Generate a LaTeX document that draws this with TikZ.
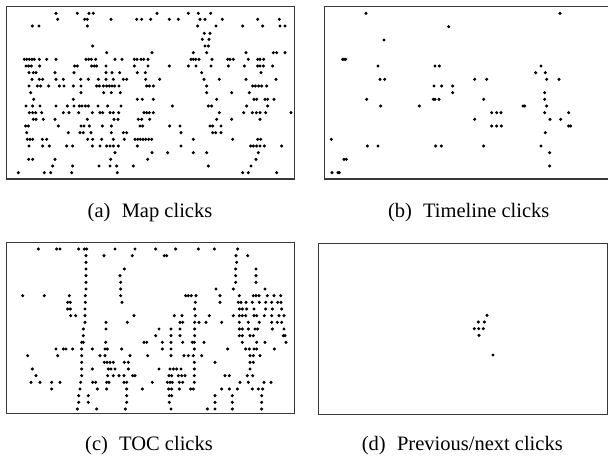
\documentclass[tikz,border=0pt]{standalone}
\usepackage{fontspec}
\setmainfont{Liberation Serif}
\begin{document}
\begin{tikzpicture}[x=1pt,y=-1pt,
  frame/.style={draw=black!78,line width=1.4pt},
  captext/.style={anchor=base,inner sep=0pt,font=\fontsize{20.5}{24}\selectfont},
  zpx/.style={x=0.33333pt,y=-0.33333pt}]
\useasboundingbox (0,0) rectangle (608,457);
\newcommand{\dotrows}[1]{\foreach \yy/\xs in {#1}{\foreach \xx in \xs {\fill (\xx,\yy) circle (1.7pt);}}}
% frames
\draw[frame] (6.5,6.7) rectangle (294.2,179);
\draw[frame] (324.7,6.7) rectangle (609.5,179);
\draw[frame] (6.7,242.7) rectangle (294.7,413.5);
\draw[frame] (318.5,243.3) rectangle (607.5,414.5);
% (a) Map clicks
\begin{scope}[zpx]
\dotrows{40/{168,232,267,280,471,565,595,632},
58/{173,254,262,333,410,425,452,508,535,600,615,667,773,838},
78/{97,117,262,593,648,728,788,840,855},
100/{613,630},
118/{607,627},
138/{278,615,625},
158/{320,456,580,620,738,820,830,855},
178/{73,80,88,96,103,118,140,168,258,266,274,287,345,366,403,411,423,431,444,573,580,587,597,636,683,690,700,745,773,780,791},
198/{78,86,94,119,224,232,275,283,290,318,403,444,508,565,588,633,685,733,773,780,790,818},
218/{87,100,108,165,222,318,336,359,412,436,605,783},
238/{96,118,128,168,190,242,265,295,318,340,370,380,437,479,612,658,738,828},
258/{87,112,122,146,178,192,220,243,290,298,310,320,328,336,344,357,440,448,460,620,758,766,776,785,800},
278/{92,243,311,334,361,620,695,748},
298/{101,220,412,427,460,650,762,770,795,803,822},
318/{78,98,120,168,202,222,238,246,256,265,294,323,363,517,625,635,740,803},
338/{88,98,107,125,190,207,236,277,300,308,330,340,356,432,440,448,460,658,731,757,769,780,797,873},
358/{100,108,130,165,262,342,354,415,425,449,650,695,780},
378/{77,85,175,243,252,268,307,334,420,428,509,540,630,638,663},
398/{80,205,240,250,273,334,370,380,543,638,647,663},
418/{82,90,98,127,140,263,278,305,340,373,405,413,421,429,437,446,455,580,698,773,782},
438/{87,128,148,200,218,277,300,320,330,340,355,412,543,752,760,770,780,793,845},
458/{345,456,503,580,620,775},
478/{86,98,165,332,443,768},
498/{158,218,297,330,350,400,625,753},
518/{55,133,152,215,352,728,745,830}}
\end{scope}
% (b) Timeline clicks
\begin{scope}[xshift=304pt,zpx]
\dotrows{40/{186,768},
80/{434},
120/{240},
178/{116,120,125},
198/{222,393,406,711},
218/{695,724},
238/{228,242,512,548,728,765},
258/{390,413,446},
278/{446,722},
298/{188,388,393,405,539,722},
318/{230,346,657,662,728},
338/{563,578,591,722,794},
358/{512,738,770},
378/{563,578,592,794,800},
398/{724},
418/{82},
438/{190,222,395,412,539,711},
458/{737},
478/{120,127},
498/{737},
518/{84,102,106}}
\end{scope}
% (c) TOC clicks
\begin{scope}[yshift=-228pt,zpx]
\dotrows{63/{115,170,180,236,253,260,345,405,467,527,595,643,713},
83/{258,312,397,493,500,708,743},
103/{258,710},
123/{258,373,707,768},
143/{258,360,707,768},
163/{258,362,707,768},
183/{258,362,648,700,795},
203/{68,133,208,256,362,557,565,574,588,660,718,760,768,777,802,822,842},
223/{203,211,256,366,586,660,715,723,738,757,778,797,815,833,843},
243/{203,211,255,584,718,727,740,762,797,817,845},
263/{212,227,255,402,523,546,586,628,700,718,727,737,762,770,793,815,837,852},
283/{255,318,382,540,548,584,597,618,665,718,745,778,815,832,845},
303/{250,318,477,513,540,584,718,727,745,765,773,817,852},
323/{250,467,513,540,584,718,727,750,760,850,855},
343/{245,250,317,432,440,487,513,548,577,583,612,727,770,795,858},
363/{168,190,198,218,245,277,315,322,365,487,513,583,683,737,748,762,770,823},
383/{83,173,245,300,315,390,443,513,552,565,580,605,750,760,780},
403/{245,313,321,330,340,373,385,583,645,750,760},
423/{97,245,277,325,333,345,385,477,510,520,530,543,583,750},
443/{108,245,323,340,357,372,398,405,507,515,535,545,555,583,675,688,742,758},
463/{93,120,155,180,242,278,287,320,327,372,380,457,502,510,517,538,548,583,720,745,792,813},
483/{155,240,292,320,380,427,506,515,538,572,580,665,688,712,757,775,788},
503/{236,265,380,508,515,645,697,785},
523/{236,265,380,508,645,697,785},
543/{232,290,376,513,622,645,697,785}}
\end{scope}
% (d) Previous/next clicks
\begin{scope}[xshift=304pt,yshift=-228pt,zpx]
\dotrows{262/{549},282/{523,541},302/{511,524,538},322/{525},381/{567}}
\end{scope}
% captions
\node[captext] (capa) at (150,218) {(a)\hspace{0.55em}Map clicks};
\node[captext] (capb) at (468.7,218) {(b)\hspace{0.55em}Timeline clicks};
\node[captext] (capc) at (149,450) {(c)\hspace{0.55em}TOC clicks};
\node[captext] (capd) at (462.3,450) {(d)\hspace{0.55em}Previous/next clicks};
\end{tikzpicture}
\end{document}
